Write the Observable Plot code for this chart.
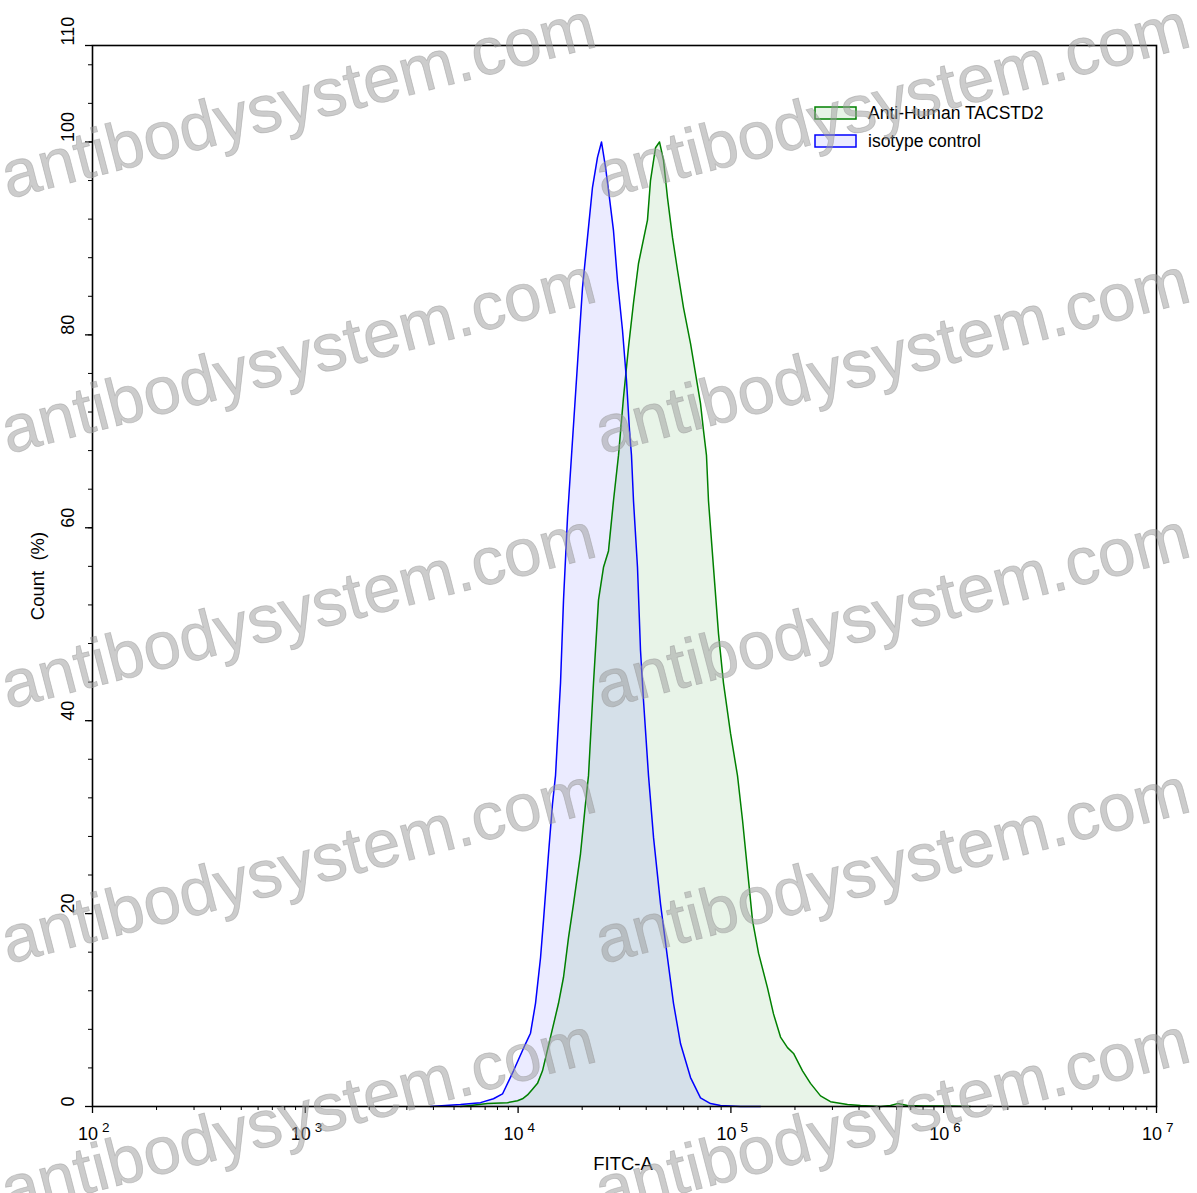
<!DOCTYPE html>
<html>
<head>
<meta charset="utf-8">
<script src="https://cdn.jsdelivr.net/npm/d3@7"></script>
<script src="https://cdn.jsdelivr.net/npm/@observablehq/plot@0.6"></script>
<style>
  html, body { margin: 0; padding: 0; background: white; }
  #wrap { position: relative; width: 1197px; height: 1193px; overflow: hidden; }
  #wm { position: absolute; left: 0; top: 0; pointer-events: none; }
</style>
</head>
<body>
<div id="wrap"></div>
<script>
// ---- Data ----
const isotypeX = [3876,4558,5362,6658,7662,8446,9515,10835,11438,12073,12744,13164,13897,14511,14990,15824,16346,17070,17826,19020,20075,21190,22367,23610,24655,25745,26594,28072,29316,30940,32310,33376,34107,34854,36397,37600,38840,41004,43290,46688,50357,53737,57995,64620,71960,80196,89370,110940,137800];
const isotypeY = [0,0.1,0.2,0.4,0.8,1.3,3.7,6.5,7.6,10.7,15.4,19.3,26.2,31.4,34.3,43.9,52.5,61.1,67.5,77.0,84.9,90.1,95.3,98.4,100,97.4,95.0,90.8,85.6,80.5,75.3,70.1,67.5,62.8,55.9,47.3,42.1,34.3,27.9,21.0,15.4,10.7,6.5,3.0,0.9,0.3,0.1,0,0];

const antiX = [5362,5975,7183,8917,9935,10488,11072,11688,12338,13023,14200,15485,16346,17255,18215,19646,20736,21420,22610,23866,25194,26594,28072,29635,31278,33017,34854,36793,40550,41900,44230,46180,48230,50357,53160,56120,59900,64620,68170,71960,74330,76780,78460,82820,87460,92300,99570,107400,113380,119680,126330,134850,148590,158570,171070,184500,196980,217060,236640,263800,293780,353100,406400,504700,562300,606700,676100,803900,1042000,1336000];
const antiY = [0,0.1,0.3,0.4,0.6,0.8,1.2,1.8,2.4,3.7,7.2,10.7,13.4,17.5,21.0,26.2,31.4,34.3,43.9,52.5,55.9,57.6,62.8,67.5,73.5,78.7,83.3,87.4,91.9,96.0,99.4,100,98.1,94.2,90.1,86.7,82.8,79.1,76.0,72.9,70.1,67.5,62.8,55.9,49.0,43.9,38.7,34.3,29.7,24.5,19.3,15.9,12.3,9.6,7.2,6.1,5.5,3.7,2.4,1.1,0.5,0.2,0.1,0,0.1,0.3,0.1,0.05,0.05,0];

const seriesNames = ["Anti-Human TACSTD2", "isotype control"];
const xExponents = [2,3,4,5,6,7];
const yMajorTicks = [0,20,40,60,80,100,110];
const yMinorTicks = d3.range(0, 110, 4);
const xLabel = "FITC-A";
const yLabel = "Count  (%)";
const watermark = "antibodysystem.com";

// ---- Build tables ----
const isotype = isotypeX.map((x, i) => ({x, y: isotypeY[i]}));
const anti = antiX.map((x, i) => ({x, y: antiY[i]}));
const xMajor = xExponents.map(e => 10 ** e);
const xMinor = [];
for (const e of xExponents.slice(0, -1)) for (let k = 2; k <= 9; k++) xMinor.push(k * 10 ** e);

const GREEN = "#008000", BLUE = "#0000ff";
const FONT = "Arial, 'Liberation Sans', Helvetica, sans-serif";

const plot = Plot.plot({
  width: 1197, height: 1193,
  marginLeft: 92, marginRight: 41, marginTop: 45, marginBottom: 87,
  x: {type: "log", domain: [1e2, 1e7], label: null},
  y: {domain: [0, 110], label: null},
  style: {fontFamily: FONT, background: "white", color: "black"},
  marks: [
    Plot.areaY(anti, {x: "x", y: "y", fill: GREEN, fillOpacity: 0.09}),
    Plot.areaY(isotype, {x: "x", y: "y", fill: BLUE, fillOpacity: 0.08}),
    Plot.lineY(anti, {x: "x", y: "y", stroke: GREEN, strokeWidth: 1.5}),
    Plot.lineY(isotype, {x: "x", y: "y", stroke: BLUE, strokeWidth: 1.5}),
    Plot.axisX(xMinor, {tickSize: 4, tickFormat: () => "", strokeWidth: 1}),
    Plot.axisX(xMajor, {tickSize: 7, tickFormat: () => "", strokeWidth: 1.3}),
    Plot.text(xMajor, {x: d => d, text: () => "10", frameAnchor: "bottom", lineAnchor: "bottom", dy: 33, dx: -4.5, textAnchor: "middle", fontSize: 18, fill: "black"}),
    Plot.text(xMajor, {x: d => d, text: d => String(Math.round(Math.log10(d))), frameAnchor: "bottom", lineAnchor: "bottom", dy: 25.5, dx: 9.5, textAnchor: "start", fontSize: 13.5, fill: "black"}),
    Plot.axisY(yMinorTicks, {tickSize: 4, tickFormat: () => "", strokeWidth: 1}),
    Plot.axisY(yMajorTicks, {tickSize: 7, tickFormat: () => "", strokeWidth: 1.3}),
    Plot.text(yMajorTicks, {y: d => d, text: d => String(d), frameAnchor: "left", dx: -24, rotate: -90, fontSize: 18, fill: "black"}),
    Plot.frame({stroke: "black", strokeWidth: 1.6})
  ]
});
document.getElementById("wrap").appendChild(plot);

// ---- Axis titles and legend ----
const svg = d3.select(plot);
svg.append("text").attr("x", 623).attr("y", 1170).attr("text-anchor", "middle")
  .attr("font-size", 18.5).attr("font-family", FONT).attr("fill", "black").text(xLabel);
svg.append("text").attr("transform", "translate(44,576) rotate(-90)").attr("text-anchor", "middle")
  .attr("font-size", 18.5).attr("font-family", FONT).attr("fill", "black")
  .style("white-space", "pre").text(yLabel);

const legend = [
  {name: seriesNames[0], color: GREEN, op: 0.09, y: 107},
  {name: seriesNames[1], color: BLUE, op: 0.08, y: 135}
];
const lg = svg.append("g").attr("font-family", FONT).attr("text-anchor", "start");
for (const l of legend) {
  lg.append("rect").attr("x", 815).attr("y", l.y).attr("width", 41).attr("height", 12)
    .attr("fill", l.color).attr("fill-opacity", l.op).attr("stroke", l.color).attr("stroke-width", 1.5);
  lg.append("text").attr("x", 868).attr("y", l.y + 12).attr("text-anchor", "start")
    .attr("font-size", 17.5).attr("fill", "black").text(l.name);
}

// ---- Watermark overlay ----
const wm = d3.select("#wrap").append("svg").attr("id", "wm").attr("width", 1197).attr("height", 1193);
const rows = [199, 454, 709, 964, 1214];
const cols = [8, 602];
for (const cx of cols) for (const ry of rows) {
  wm.append("text").attr("transform", `translate(${cx},${ry}) rotate(-14.5)`)
    .attr("font-family", FONT).attr("font-size", 67).attr("fill", "#999999").attr("fill-opacity", 0.5)
    .attr("stroke", "#999999").attr("stroke-opacity", 0.5).attr("stroke-width", 0.8)
    .text(watermark);
}
</script>
</body>
</html>
